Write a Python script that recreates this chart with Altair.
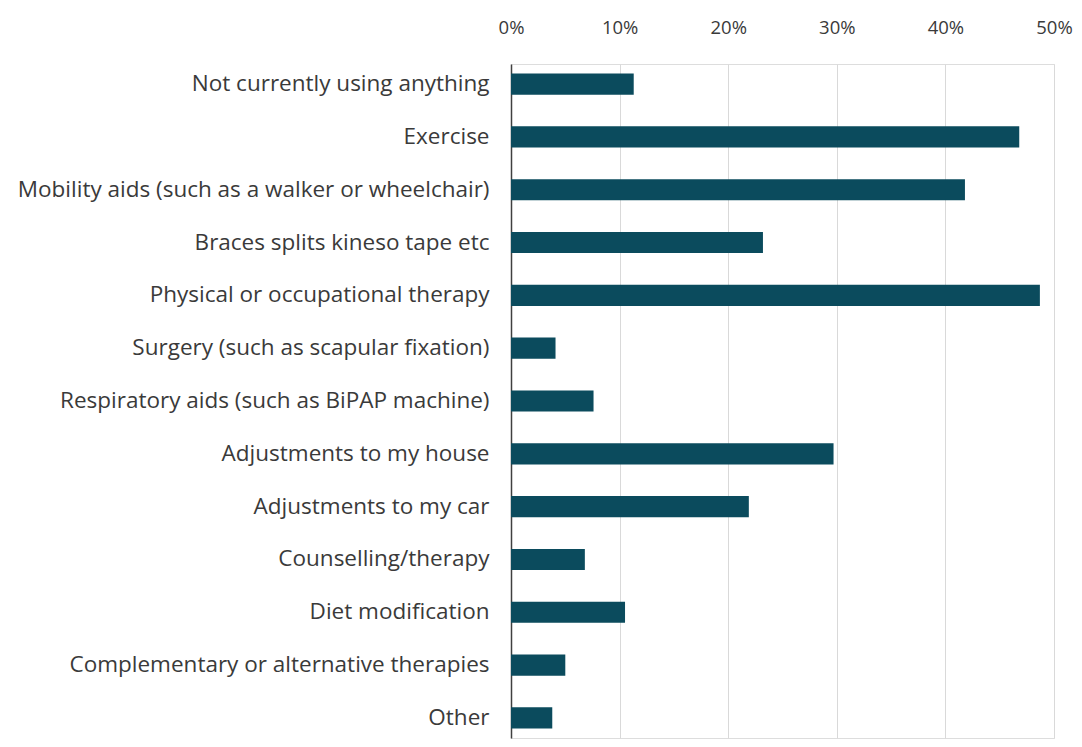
import altair as alt
import pandas as pd

categories = [
    "Not currently using anything",
    "Exercise",
    "Mobility aids (such as a walker or wheelchair)",
    "Braces splits kineso tape etc",
    "Physical or occupational therapy",
    "Surgery (such as scapular fixation)",
    "Respiratory aids (such as BiPAP machine)",
    "Adjustments to my house",
    "Adjustments to my car",
    "Counselling/therapy",
    "Diet modification",
    "Complementary or alternative therapies",
    "Other",
]
values = [0.113, 0.468, 0.418, 0.232, 0.487, 0.041, 0.076, 0.297, 0.219, 0.068, 0.105, 0.050, 0.038]
tick_values = [0, 0.1, 0.2, 0.3, 0.4, 0.5]

df = pd.DataFrame({"category": categories, "value": values})

FONT = "Open Sans"
TEXT_COLOR = "#3a3a3a"

chart = (
    alt.Chart(df)
    .mark_bar(color="#0b4b5d")
    .encode(
        x=alt.X(
            "value:Q",
            scale=alt.Scale(domain=[0, 0.5], nice=False),
            axis=alt.Axis(
                orient="top",
                format=".0%",
                values=tick_values,
                title=None,
                domain=False,
                ticks=False,
                grid=True,
                gridColor="#d9d9d9",
                gridWidth=1,
                labelPadding=27,
                labelFlush=False,
                labelFont=FONT,
                labelFontSize=18.5,
                labelColor=TEXT_COLOR,
            ),
        ),
        y=alt.Y(
            "category:N",
            sort=None,
            scale=alt.Scale(paddingInner=0.6, paddingOuter=0.18),
            axis=alt.Axis(
                title=None,
                ticks=False,
                domain=True,
                domainColor="#404040",
                domainWidth=1.5,
                grid=False,
                labelPadding=22,
                labelFont=FONT,
                labelFontSize=22.5,
                labelColor=TEXT_COLOR,
                labelLimit=600,
            ),
        ),
    )
    .properties(
        width=543,
        height=674,
        autosize=alt.AutoSizeParams(type="none"),
        padding={"left": 503, "top": 56, "right": 20, "bottom": 1},
    )
    .configure_view(stroke=None)
    .configure(background="white")
)

chart.save("out.html", embed_options={"renderer": "svg", "actions": False})
